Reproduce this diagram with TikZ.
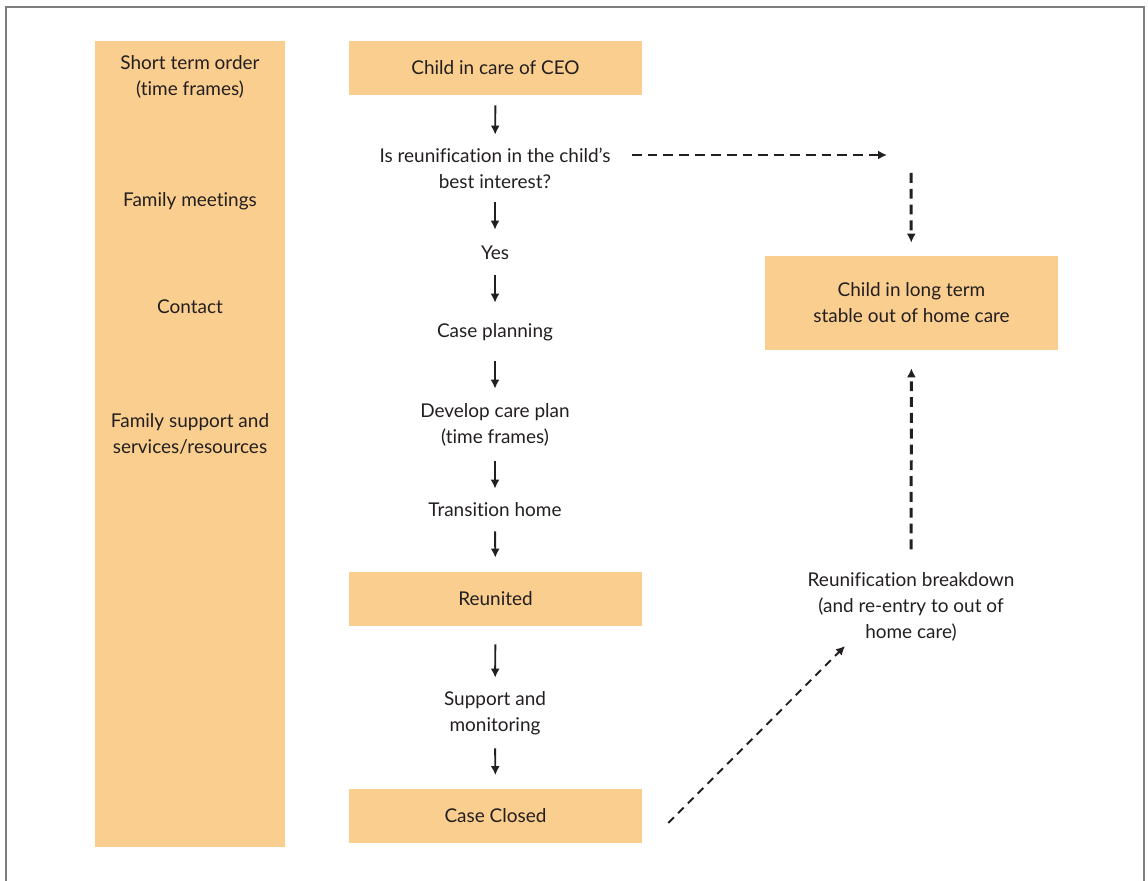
\documentclass[tikz,border=0pt]{standalone}
\usepackage{fontspec}
\setmainfont{Lato}[Ligatures=NoCommon]
\usetikzlibrary{calc,positioning,arrows.meta}
\definecolor{boxfill}{RGB}{250,206,142}
\definecolor{ink}{RGB}{35,31,32}
\definecolor{framegray}{RGB}{125,125,125}
\tikzset{%
  >={Latex[length=0.18cm,width=0.18cm]}, % small filled tips
  every node/.style={font=\fontsize{10.8}{14.8}\selectfont,text=ink,align=center},
  stepbox/.style={fill=boxfill,minimum width=5.86cm,minimum height=1.08cm,inner sep=0pt},
  flowtext/.style={inner sep=0pt,minimum width=5.86cm},
  flow/.style={->,draw=ink,line width=1.1pt},
  dflow/.style={->,draw=ink,line width=1.7pt,dash pattern=on 5.6pt off 3.4pt},
  thinflow/.style={->,draw=ink,line width=1.1pt,dash pattern=on 4.5pt off 3.4pt}%
}
\begin{document}
\begin{tikzpicture}[x=0.02cm,y=-0.02cm] % 1 unit = 1 pixel of the layout
    \useasboundingbox (0,0) rectangle (1148,881);
    \draw[framegray,line width=1.1pt] (6,881) |- (1144,7) -- (1144,881);

    % side column
    \node[fill=boxfill,minimum width=3.8cm,minimum height=16.12cm,inner sep=0pt] (side) at (190,444) {};
    \foreach \y/\t [count=\i] in {77/{Short term order\\(time frames)},201/{Family meetings},
        307/{Contact},434/{Family support and\\services/resources}}
      \node[inner sep=0pt] (side\i) at (190,\y) {\t};

    % main flow
    \node[stepbox] (ceo) at (495.5,68) {Child in care of CEO};
    \node[flowtext,minimum height=1.34cm] (ask) at (495,168.5) {Is reunification in the child’s\\best interest?};
    \node[flowtext,minimum height=0.9cm] (yes) at (495,252.5) {Yes};
    \node[flowtext,minimum height=1.16cm] (plan) at (495,332) {Case planning};
    \node[flowtext,minimum height=1.44cm] (dev) at (495,425) {Develop care plan\\(time frames)};
    \node[flowtext,minimum height=0.84cm] (trans) at (495,510) {Transition home};
    \node[stepbox] (reun) at (495.5,599) {Reunited};
    \node[flowtext,minimum height=1.52cm] (supp) at (495,713) {Support and\\monitoring};
    \node[stepbox] (closed) at (495.5,815.5) {Case Closed};

    \draw[flow,shorten <=0.2cm] (ceo) -- (ask);
    \draw[flow] (ask) -- (yes);
    \draw[flow] (yes) -- (plan);
    \draw[flow] (plan) -- (dev);
    \draw[flow] (dev) -- (trans);
    \draw[flow,shorten >=0.28cm] (trans) -- (reun);
    \draw[flow,shorten <=0.36cm,shorten >=-0.06cm] (reun) -- (supp);
    \draw[flow,shorten <=-0.06cm,shorten >=0.26cm] (supp) -- (closed);

    % out of home care branch
    \node[stepbox,minimum height=1.88cm] (longterm) at (911.5,303) {Child in long term\\stable out of home care};
    \node[inner sep=0pt] (breakdown) at (911,607) {Reunification breakdown\\(and re-entry to out of\\home care)};
    \coordinate (turn) at (911,155);

    \draw[dflow] ($(ask.east|-turn)+(-10,0)$) -- ($(turn)+(-24,0)$);
    \draw[dflow,shorten >=0.26cm] ($(turn)+(0,18)$) -- (longterm);
    \draw[dflow,shorten <=0.46cm,shorten >=0.36cm] (breakdown) -- (longterm);
    \draw[thinflow] ($(closed.east)+(26,7.5)$) -- ($(breakdown.center)+(-66,39)$);
\end{tikzpicture}
\end{document}
